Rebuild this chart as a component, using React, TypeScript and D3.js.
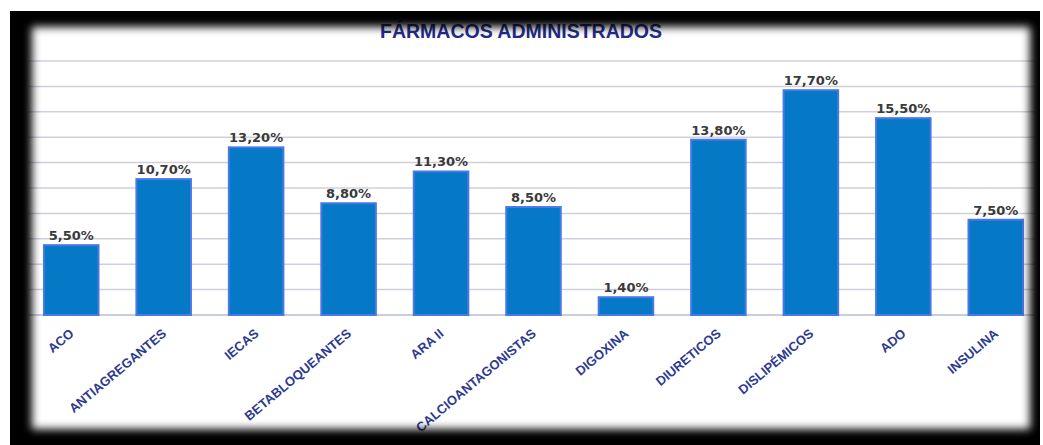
import React from 'react';
import * as d3 from 'd3';

const categories = ['ACO', 'ANTIAGREGANTES', 'IECAS', 'BETABLOQUEANTES', 'ARA II', 'CALCIOANTAGONISTAS',
    'DIGOXINA', 'DIURETICOS', 'DISLIPÉMICOS', 'ADO', 'INSULINA'];
const values = [5.5, 10.7, 13.2, 8.8, 11.3, 8.5, 1.4, 13.8, 17.7, 15.5, 7.5];
const gridTicks = [2, 4, 6, 8, 10, 12, 14, 16, 18, 20];
const title = 'FÁRMACOS ADMINISTRADOS';

const W = 1043;
const H = 445;

// Spanish style numbers: 5,50%
const esLocale = d3.formatLocale({decimal: ',', thousands: '.', grouping: [3], currency: ['', '']});
const fmt = esLocale.format('.2f');

export default function App() {
    const x = d3.scaleBand<string>()
        .domain(categories)
        .range([25, 1042])
        .paddingInner(0.41)
        .paddingOuter(0.205);

    const y = d3.scaleLinear()
        .domain([0, 20])
        .range([315, 61]);

    return (
        <svg width={W} height={H} style={{display: 'block', position: 'absolute', left: 0, top: 0}}>
            <defs>
                <filter id="soft" x="-10%" y="-10%" width="120%" height="120%">
                    <feGaussianBlur stdDeviation="4"/>
                </filter>
                <mask id="frameMask" maskUnits="userSpaceOnUse" x="0" y="0" width={W} height={H}>
                    <rect x={0} y={0} width={W} height={H} fill="white"/>
                    <rect x={32} y={27} width={998} height={402} fill="black" filter="url(#soft)"/>
                </mask>
            </defs>
            <rect x={0} y={0} width={W} height={H} fill="#ffffff"/>

            {/* grid */}
            <g>
                {[0, ...gridTicks].map(t => (
                    <line key={t} x1={28} x2={1035} y1={y(t)} y2={y(t)}
                          stroke={t === 0 ? '#b9bcd0' : '#cfd0dc'} strokeWidth={1.5}/>
                ))}
            </g>

            {/* bars */}
            <g>
                {categories.map((c, i) => (
                    <rect key={c}
                          x={x(c)}
                          y={y(values[i])}
                          width={x.bandwidth()}
                          height={y(0) - y(values[i])}
                          fill="#0579c6"
                          stroke="#4a78e6"
                          strokeWidth={2}/>
                ))}
            </g>

            {/* value labels */}
            <g fontFamily="'DejaVu Sans', sans-serif" fontWeight="bold" fontSize={13} fill="#3a3a3a" textAnchor="middle">
                {categories.map((c, i) => (
                    <text key={c} x={(x(c) as number) + x.bandwidth() / 2} y={y(values[i]) - 5}>
                        {fmt(values[i]) + '%'}
                    </text>
                ))}
            </g>

            {/* category labels */}
            <g fontFamily="'Liberation Sans', Arial, sans-serif" fontWeight="bold" fontSize={13} fill="#2d3a8f" textAnchor="end">
                {categories.map(c => {
                    const cx = (x(c) as number) + x.bandwidth() / 2 + 3.5;
                    return (
                        <text key={c} transform={`translate(${cx},${335}) rotate(-40)`}>{c}</text>
                    );
                })}
            </g>

            {/* title */}
            <text x={521} y={38} textAnchor="middle" fontFamily="'Liberation Sans', Arial, sans-serif"
                  fontWeight="bold" fontSize={19.5} fill="#232c8c">
                {title}
            </text>

            {/* dark blurred frame */}
            <rect x={10} y={11} width={1030} height={434} fill="#000" mask="url(#frameMask)"/>
        </svg>
    );
}
